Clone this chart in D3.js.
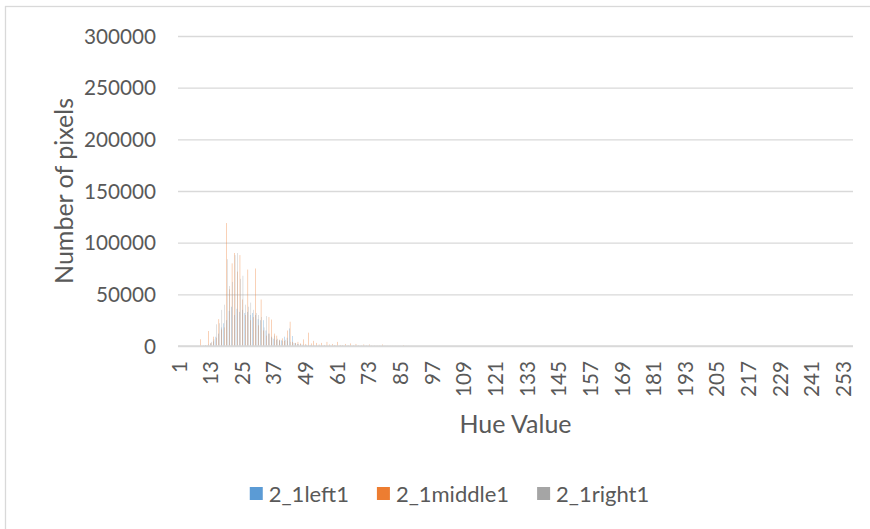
<!DOCTYPE html>
<html>
<head>
<meta charset="utf-8">
<script src="https://cdn.jsdelivr.net/npm/d3@7"></script>
<style>
  html, body { margin: 0; padding: 0; background: #fff; }
  svg { display: block; }
  text { font-family: "Lato", "Open Sans", sans-serif; fill: #595959; }
</style>
</head>
<body>
<svg id="chart" width="870" height="529"></svg>
<script>
// Hue histogram: pixel counts per hue value (1..256) for three image regions.
const seriesNames = ["2_1left1", "2_1middle1", "2_1right1"];
const seriesColors = ["#5B9BD5", "#ED7D31", "#A5A5A5"];

const hueValues = d3.range(1, 257);
const tickLabels = [1, 13, 25, 37, 49, 61, 73, 85, 97, 109, 121, 133, 145, 157, 169, 181, 193, 205, 217, 229, 241, 253];
const yTicks = [0, 50000, 100000, 150000, 200000, 250000, 300000];

const left1 = [
  0, 0, 0, 0, 0, 0, 0, 0, 0, 0, 200, 600, 2500, 4500, 9000, 12000,
  18000, 22000, 25000, 34000, 38000, 30000, 36000, 33000, 35000, 32000, 33000, 30000, 32000, 30000, 26000, 25000,
  25000, 15000, 12000, 9000, 7000, 6000, 5000, 5500, 9000, 8000, 17000, 9700, 3000, 2000, 1500, 1200,
  1000, 900, 800, 600, 500, 400, 400, 300, 300, 250, 200, 200, 150, 150, 100, 100,
  100, 80, 80, 60, 60, 50, 50, 40, 40, 30, 30, 20, 20, 20, 10, 10,
  0, 0, 0, 0, 0, 0, 0, 0, 0, 0, 0, 0, 0, 0, 0, 0,
  0, 0, 0, 0, 0, 0, 0, 0, 0, 0, 0, 0, 0, 0, 0, 0,
  0, 0, 0, 0, 0, 0, 0, 0, 0, 0, 0, 0, 0, 0, 0, 0,
  0, 0, 0, 0, 0, 0, 0, 0, 0, 0, 0, 0, 0, 0, 0, 0,
  0, 0, 0, 0, 0, 0, 0, 0, 0, 0, 0, 0, 0, 0, 0, 0,
  0, 0, 0, 0, 0, 0, 0, 0, 0, 0, 0, 0, 0, 0, 0, 0,
  0, 0, 0, 0, 0, 0, 0, 0, 0, 0, 0, 0, 0, 0, 0, 0,
  0, 0, 0, 0, 0, 0, 0, 0, 0, 0, 0, 0, 0, 0, 0, 0,
  0, 0, 0, 0, 0, 0, 0, 0, 0, 0, 0, 0, 0, 0, 0, 0,
  0, 0, 0, 0, 0, 0, 0, 0, 0, 0, 0, 0, 0, 0, 0, 0,
  0, 0, 0, 0, 0, 0, 0, 0, 0, 0, 0, 0, 0, 0, 0, 0
];

const middle1 = [
  0, 0, 0, 0, 0, 0, 0, 0, 6500, 0, 800, 14500, 3000, 9000, 8000, 26000,
  16000, 18000, 119000, 55000, 80000, 90000, 72000, 88000, 45000, 30000, 74000, 25000, 28000, 75000, 20000, 45000,
  15000, 10000, 28000, 25600, 12000, 10000, 6000, 7400, 5000, 15000, 23500, 4000, 3000, 4000, 2500, 6400,
  2000, 12900, 2500, 5000, 3000, 1500, 3000, 1000, 4000, 1500, 2000, 1000, 4000, 1000, 800, 2000,
  700, 2500, 600, 2000, 500, 400, 1500, 400, 1500, 300, 300, 200, 200, 1500, 150, 100,
  100, 100, 80, 80, 60, 800, 50, 40, 30, 30, 20, 20, 10, 10, 10, 0,
  0, 0, 0, 0, 0, 0, 0, 0, 0, 0, 0, 0, 0, 0, 0, 0,
  0, 0, 0, 0, 0, 0, 0, 0, 0, 0, 0, 0, 0, 0, 0, 0,
  0, 0, 0, 0, 0, 0, 0, 0, 0, 0, 0, 0, 0, 0, 0, 0,
  0, 0, 0, 0, 0, 0, 0, 0, 0, 0, 0, 0, 0, 0, 0, 0,
  0, 0, 0, 0, 0, 0, 0, 0, 0, 0, 0, 0, 0, 0, 0, 0,
  0, 0, 0, 0, 0, 0, 0, 0, 0, 0, 0, 0, 0, 0, 0, 0,
  0, 0, 0, 0, 0, 0, 0, 0, 0, 0, 0, 0, 0, 0, 0, 0,
  0, 0, 0, 0, 0, 0, 0, 0, 0, 0, 0, 0, 0, 0, 0, 0,
  0, 0, 0, 0, 0, 0, 0, 0, 0, 0, 0, 0, 0, 0, 0, 0,
  0, 0, 0, 0, 0, 0, 0, 0, 0, 0, 0, 0, 0, 0, 0, 0
];

const right1 = [
  300, 0, 0, 0, 0, 0, 0, 0, 0, 500, 500, 1500, 4000, 6500, 21000, 22000,
  35000, 40000, 84000, 58000, 62000, 88000, 90000, 65000, 68000, 40000, 38000, 42000, 35000, 32000, 30000, 28000,
  18000, 29000, 12000, 8000, 10000, 7000, 6000, 5000, 6000, 5000, 4000, 3000, 2500, 2000, 1500, 1200,
  1000, 800, 700, 600, 500, 400, 300, 300, 250, 200, 150, 150, 100, 100, 80, 80,
  60, 60, 50, 50, 40, 40, 30, 30, 20, 20, 10, 10, 0, 0, 0, 0,
  0, 0, 0, 0, 0, 0, 0, 0, 0, 0, 0, 0, 0, 0, 0, 0,
  0, 0, 0, 0, 0, 0, 0, 0, 0, 0, 0, 0, 0, 0, 0, 0,
  0, 0, 0, 0, 0, 0, 0, 0, 0, 0, 0, 0, 0, 0, 0, 0,
  0, 0, 0, 0, 0, 0, 0, 0, 0, 0, 0, 0, 0, 0, 0, 0,
  0, 0, 0, 0, 0, 0, 0, 0, 0, 0, 0, 0, 0, 0, 0, 0,
  0, 0, 0, 0, 0, 0, 0, 0, 0, 0, 0, 0, 0, 0, 0, 0,
  0, 0, 0, 0, 0, 0, 0, 0, 0, 0, 0, 0, 0, 0, 0, 0,
  0, 0, 0, 0, 0, 0, 0, 0, 0, 0, 0, 0, 0, 0, 0, 0,
  0, 0, 0, 0, 0, 0, 0, 0, 0, 0, 0, 0, 0, 0, 0, 0,
  0, 0, 0, 0, 0, 0, 0, 0, 0, 0, 0, 0, 0, 0, 0, 0,
  0, 0, 0, 0, 0, 0, 0, 0, 0, 0, 0, 0, 0, 0, 0, 0
];

const seriesValues = [left1, middle1, right1];

const svg = d3.select("#chart");
const W = 870, H = 529;
const plot = { left: 178, right: 853, top: 36, bottom: 346 };

svg.append("rect").attr("width", W).attr("height", H).attr("fill", "#fff");
// chart frame
svg.append("rect")
  .attr("x", 5.5).attr("y", 6.5).attr("width", 1000).attr("height", 1000)
  .attr("fill", "none").attr("stroke", "#d9d9d9").attr("stroke-width", 1.3);

const x = d3.scaleBand().domain(hueValues).range([plot.left, plot.right])
  .paddingInner(0.6).paddingOuter(0.3);
const xs = d3.scaleBand().domain(d3.range(seriesNames.length)).range([0, x.bandwidth()]);
const y = d3.scaleLinear().domain([0, 300000]).range([plot.bottom, plot.top]);

// horizontal gridlines
const yAxis = d3.axisLeft(y).tickValues(yTicks).tickSize(-(plot.right - plot.left)).tickFormat(d3.format("d"));
const gy = svg.append("g").attr("transform", `translate(${plot.left},0)`).call(yAxis);
gy.select(".domain").remove();
gy.selectAll(".tick line").attr("stroke", "#d9d9d9").attr("stroke-width", 1.4);
gy.selectAll(".tick text")
  .attr("x", -22).attr("dy", "0.35em")
  .style("font-size", "20.7px").style("font-family", "Lato").attr("fill", "#595959");

// bars
seriesValues.forEach((vals, s) => {
  svg.append("g").selectAll("rect")
    .data(hueValues.map((h, i) => ({ h, v: vals[i] })).filter(d => d.v > 0))
    .join("rect")
    .attr("x", d => x(d.h) + xs(s))
    .attr("width", xs.bandwidth())
    .attr("y", d => y(d.v))
    .attr("height", d => y(0) - y(d.v))
    .attr("fill", seriesColors[s]);
});

// category axis
const xAxis = d3.axisBottom(x).tickValues(tickLabels).tickSize(0);
const gx = svg.append("g").attr("transform", `translate(0,${plot.bottom})`).call(xAxis);
gx.select(".domain").attr("stroke", "#d9d9d9").attr("stroke-width", 1.4)
  .attr("d", `M${plot.left},0H${plot.right}`);
gx.selectAll(".tick text")
  .attr("transform", "rotate(-90)")
  .attr("text-anchor", "end")
  .attr("x", -15).attr("y", 0).attr("dy", "0.35em")
  .style("font-size", "20.7px").style("font-family", "Lato").attr("fill", "#595959");

// axis titles
svg.append("text")
  .attr("transform", "translate(64,191) rotate(-90)")
  .attr("text-anchor", "middle").attr("dy", "0.35em")
  .style("font-size", "25px").text("Number of pixels");
svg.append("text")
  .attr("x", (plot.left + plot.right) / 2).attr("y", 424).attr("dy", "0.35em")
  .attr("text-anchor", "middle")
  .style("font-size", "25px").text("Hue Value");

// legend
const legend = svg.append("g");
const items = legend.selectAll("g").data(seriesNames).join("g");
items.append("rect").attr("width", 13).attr("height", 13).attr("y", 487)
  .attr("fill", (d, i) => seriesColors[i]);
items.append("text").attr("x", 19).attr("y", 494).attr("dy", "0.35em")
  .style("font-size", "22px").text(d => d);
let cursor = 0;
const offsets = [];
items.each(function () {
  offsets.push(cursor);
  cursor += 19 + this.querySelector("text").getComputedTextLength() + 28;
});
const total = cursor - 28;
const start = 449.5 - total / 2;
items.attr("transform", (d, i) => `translate(${start + offsets[i]},0)`);
</script>
</body>
</html>
